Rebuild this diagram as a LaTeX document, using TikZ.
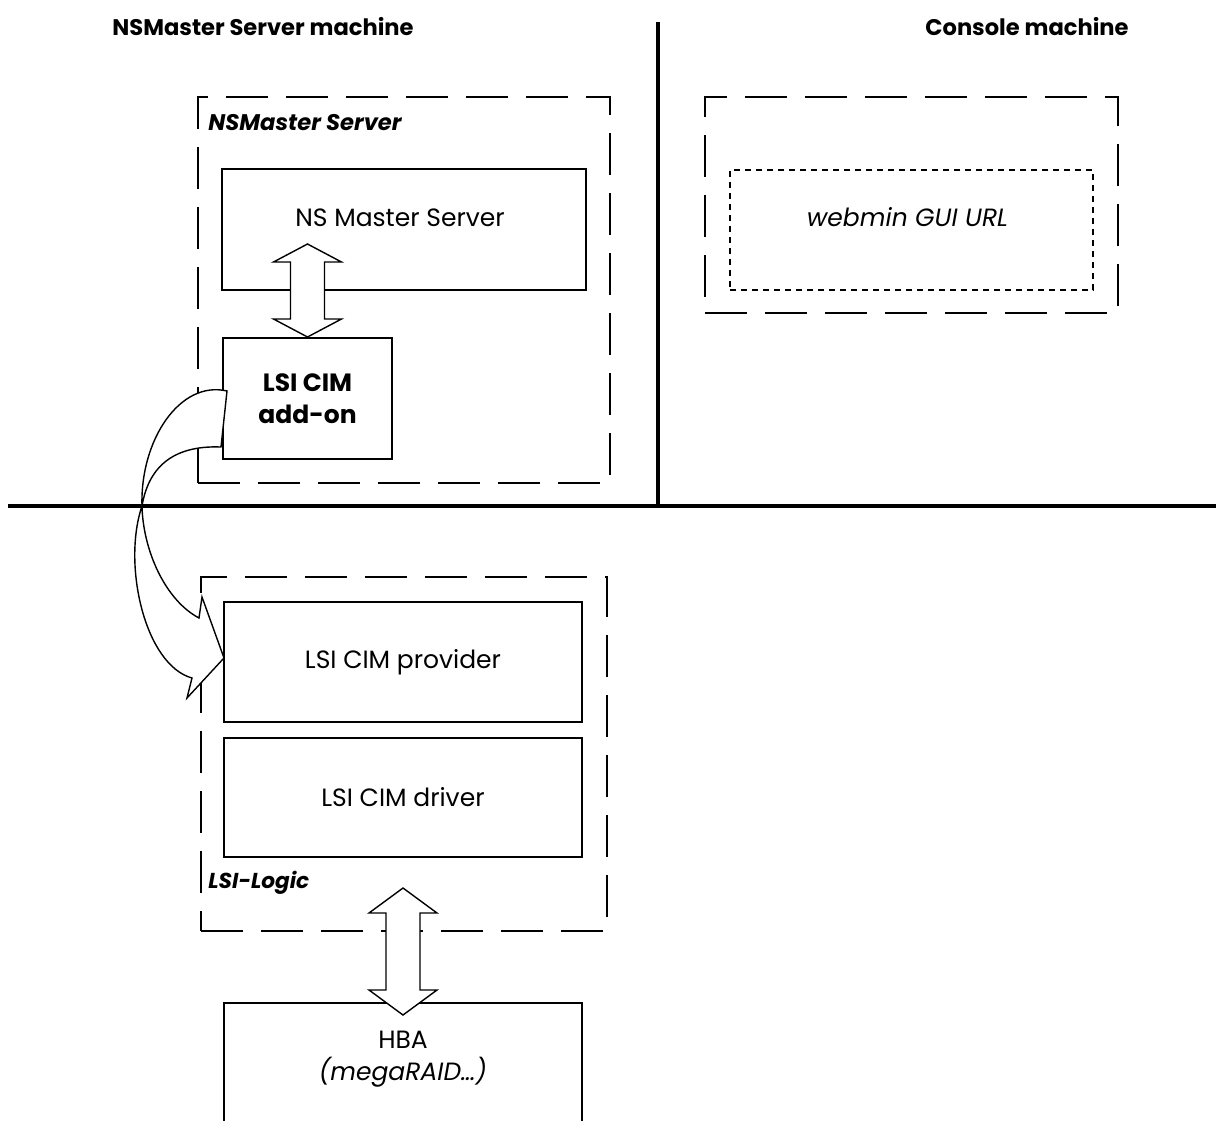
\documentclass[tikz,border=0pt]{standalone}
\usepackage{fontspec}
\setmainfont{Poppins}
\usetikzlibrary{calc,positioning}
\newcommand\sz{\fontsize{12.5}{16}\selectfont}
\newcommand\bsz{\fontsize{11.3}{14}\selectfont}
% fat two-way arrow: top tip, bottom tip, head length
\newcommand\twoway[3]{%
  \draw[fatarrow] (#1) -- ++(34,#3) -- ++(-17,0) -- ($(#2)+(17,-#3)$) -- ++(17,0)
    -- (#2) -- ++(-34,-#3) -- ++(17,0) -- ($(#1)+(-17,#3)$) -- ++(-17,0) -- cycle;}

\begin{document}
\begin{tikzpicture}[x=0.5pt,y=-0.5pt,
  box/.style={draw,line width=1pt,minimum width=179pt,minimum height=60pt,font=\sz},
  area/.style={draw,line width=1.2pt,dash pattern=on 21pt off 9pt},
  webarea/.style={draw,line width=1pt,dash pattern=on 3pt off 2.5pt},
  title/.style={font=\bfseries\bsz},
  tag/.style={font=\bfseries\itshape\bsz,anchor=west,inner sep=0pt},
  lbl/.style={font=\sz,align=center},
  sepline/.style={line width=1.6pt},
  fatarrow/.style={draw,fill=white,line width=0.7pt,line join=miter}]
  \useasboundingbox (0,0) rectangle (1216,1120);

  \node[title] (srvtitle) at (263,27) {NSMaster Server machine};
  \node[title] (contitle) at (1027,27) {Console machine};
  \draw[sepline] (8,506) -- (1216,506);
  \draw[sepline] (658,22) -- (658,506);

  % machines
  \node[area,minimum width=206pt,minimum height=193pt] (srv) at (404,290) {};
  \node[area,minimum width=203pt,minimum height=177pt] (lsi) at (404,754) {};
  \node[area,minimum width=206.5pt,minimum height=108pt] (con) at (911.5,205) {};
  \node[tag] (srvtag) at (208,123) {NSMaster Server};
  \node[tag,font=\bfseries\itshape\fontsize{10.8}{14}\selectfont] (lsitag) at (208,883) {LSI-Logic};

  \node[webarea,minimum width=181.5pt,minimum height=60pt] (web) at (911.5,230) {};
  \node[lbl,font=\itshape\sz] (webtxt) at (907.5,217) {webmin GUI URL};

  \node[box,minimum width=182pt,minimum height=60.5pt] (nms) at (404,229.5) {};
  \node[lbl] (nmstxt) at (400,218) {NS Master Server};
  \node[box,minimum width=84.5pt,minimum height=60.5pt,font=\bfseries\sz,align=center] (addon) at (307.5,398.5) {LSI CIM\\add-on};
  \node[box] (provider) at (403,662) {LSI CIM provider};
  \node[box,minimum height=59.5pt] (driver) at (403,797.5) {LSI CIM driver};
  \node[box,minimum height=68.5pt] (hba) at (403,1071.5) {};
  \node[lbl] (hbatxt) at (403,1059) {HBA\\\textit{(megaRAID…)}};

  % arrows
  \coordinate (upA) at ($(addon.north)+(0,-93)$);
  \twoway{upA}{addon.north}{18}
  \coordinate (dnA) at ($(driver.south)+(0,30)$);
  \coordinate (dnB) at ($(hba.north)+(0,13)$);
  \twoway{dnA}{dnB}{25}

  \coordinate (tailA) at ($(addon.west)+(5,-7.5)$);
  \coordinate (tailB) at ($(addon.west)+(-1,48.5)$);
  \coordinate (tip) at ($(provider.west)+(1,-4)$);
  \coordinate (twist) at (142,506);
  \draw[fatarrow] (tailA) .. controls (180,380) and (140,440) .. (twist)
    .. controls (143,550) and (165,600) .. (199,618) -- (202,597) -- (tip)
    -- (187,698) -- (192,678) .. controls (145,665) and (122,565) .. (twist)
    .. controls (148,470) and (170,445) .. (tailB) -- cycle;
\end{tikzpicture}
\end{document}
